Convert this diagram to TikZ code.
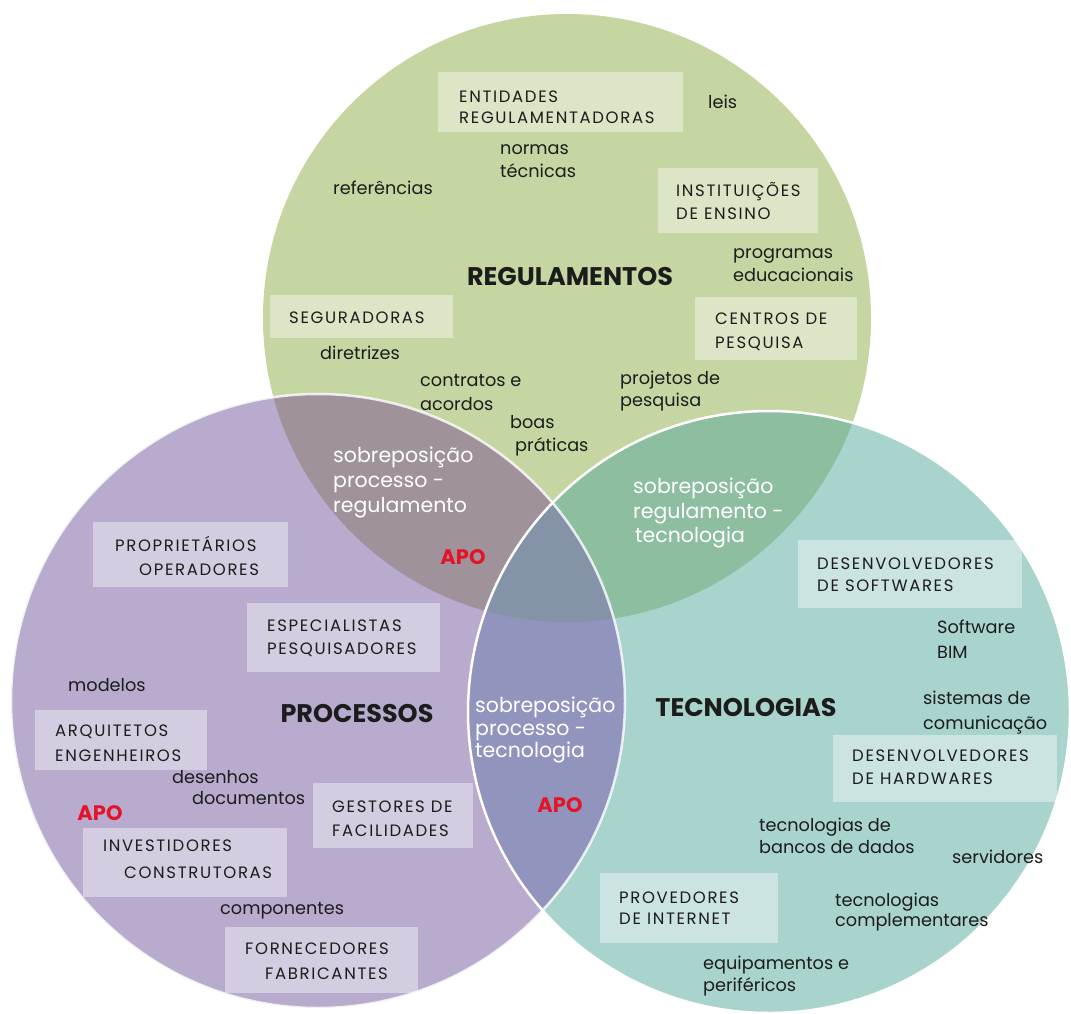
\documentclass[tikz,border=0pt]{standalone}
\usepackage{fontspec}
\setmainfont{Poppins}
\newfontfamily\capsfont[LetterSpace=10.0]{Poppins}
\definecolor{ink}{RGB}{28,28,28}
\definecolor{gcol}{RGB}{197,214,162}
\definecolor{pcol}{RGB}{184,171,206}
\definecolor{tcol}{RGB}{169,211,205}
\definecolor{gpcol}{RGB}{159,146,155}
\definecolor{gtcol}{RGB}{142,190,160}
\definecolor{ptcol}{RGB}{145,149,190}
\definecolor{gptcol}{RGB}{133,147,169}
\definecolor{apored}{RGB}{228,20,40}
\begin{document}
\begin{tikzpicture}[x=1pt,y=-1pt,
  lw/.style={anchor=base west, inner sep=0pt, text=ink, font=\fontsize{17.7}{20}\selectfont},
  cw/.style={anchor=base west, inner sep=0pt, text=ink, font=\capsfont\fontsize{16.5}{19}\selectfont},
  ow/.style={anchor=base west, inner sep=0pt, text=white, font=\fontsize{20.5}{24}\selectfont},
  head/.style={inner sep=0pt, text=ink, font=\bfseries\fontsize{25.5}{29}\selectfont},
  apo/.style={inner sep=0pt, text=apored, font=\bfseries\fontsize{21}{24}\selectfont},
  card/.style={rectangle, fill=white, fill opacity=0.4, inner sep=0pt, draw=none},
  edge/.style={draw=white, line width=2.5pt}]
\useasboundingbox (0,0) rectangle (1071,1014);
\fill[white] (0,0) rectangle (1071,1014);

% circle centres
\coordinate (G) at (567,318);
\coordinate (P) at (318,701);
\coordinate (T) at (769,712);
\def\rg{304}\def\rp{307}\def\rt{301}

% single areas
\fill[gcol] (G) circle[radius=\rg];
\fill[pcol] (P) circle[radius=\rp];
\fill[tcol] (T) circle[radius=\rt];
% pairwise overlaps
\begin{scope}\clip (G) circle[radius=\rg]; \fill[gpcol] (P) circle[radius=\rp];\end{scope}
\begin{scope}\clip (G) circle[radius=\rg]; \fill[gtcol] (T) circle[radius=\rt];\end{scope}
\begin{scope}\clip (P) circle[radius=\rp]; \fill[ptcol] (T) circle[radius=\rt];\end{scope}
% centre overlap
\begin{scope}\clip (G) circle[radius=\rg]; \clip (P) circle[radius=\rp]; \fill[gptcol] (T) circle[radius=\rt];\end{scope}
% white rims
\draw[edge, draw opacity=0.8] (P) circle[radius=\rp];
\draw[edge] (T) circle[radius=\rt];

% cards
\node[card, minimum width=245, minimum height=60] (cEnt) at (560.5,102) {};
\node[card, minimum width=160, minimum height=65] (cIns) at (738,200.5) {};
\node[card, minimum width=183, minimum height=43] (cSeg) at (361.5,316.5) {};
\node[card, minimum width=162, minimum height=63] (cCen) at (776,328.5) {};
\node[card, minimum width=195, minimum height=65] (cPro) at (190.5,554.5) {};
\node[card, minimum width=193, minimum height=69] (cEsp) at (343.5,637.5) {};
\node[card, minimum width=172, minimum height=60] (cArq) at (121,740) {};
\node[card, minimum width=160, minimum height=65] (cGes) at (393,815.5) {};
\node[card, minimum width=204, minimum height=69] (cInv) at (185,862.5) {};
\node[card, minimum width=193, minimum height=66] (cFor) at (321.5,960) {};
\node[card, minimum width=224, minimum height=68] (cSof) at (910,574) {};
\node[card, minimum width=224, minimum height=67] (cHar) at (945,768.5) {};
\node[card, minimum width=178, minimum height=70] (cPrv) at (689,908) {};

% card texts
\node[cw] (t1a) at (459,103) {ENTIDADES};
\node[cw] (t1b) at (459,124) {REGULAMENTADORAS};
\node[cw] (t2a) at (676,196) {INSTITUIÇÕES};
\node[cw] (t2b) at (676,219) {DE ENSINO};
\node[cw] (t3a) at (289,323) {SEGURADORAS};
\node[cw] (t4a) at (715,324) {CENTROS DE};
\node[cw] (t4b) at (715,348) {PESQUISA};
\node[cw] (t5a) at (115,551) {PROPRIETÁRIOS};
\node[cw] (t5b) at (139,575) {OPERADORES};
\node[cw] (t6a) at (267,631) {ESPECIALISTAS};
\node[cw] (t6b) at (267,654) {PESQUISADORES};
\node[cw] (t7a) at (55,736) {ARQUITETOS};
\node[cw] (t7b) at (55,761) {ENGENHEIROS};
\node[cw] (t8a) at (332,812) {GESTORES DE};
\node[cw] (t8b) at (332,836) {FACILIDADES};
\node[cw] (t9a) at (103,851) {INVESTIDORES};
\node[cw] (t9b) at (124,878) {CONSTRUTORAS};
\node[cw] (t10a) at (245,954) {FORNECEDORES};
\node[cw] (t10b) at (265,979) {FABRICANTES};
\node[cw] (t11a) at (817,569) {DESENVOLVEDORES};
\node[cw] (t11b) at (817,591) {DE SOFTWARES};
\node[cw] (t12a) at (852,761) {DESENVOLVEDORES};
\node[cw] (t12b) at (852,784) {DE HARDWARES};
\node[cw] (t13a) at (619,903) {PROVEDORES};
\node[cw] (t13b) at (619,924) {DE INTERNET};

% loose terms
\node[lw] (w1) at (708,109) {leis};
\node[lw] (w2a) at (500,155) {normas};
\node[lw] (w2b) at (500,178) {técnicas};
\node[lw] (w3) at (333,194) {referências};
\node[lw] (w4a) at (733,258) {programas};
\node[lw] (w4b) at (733,281) {educacionais};
\node[lw] (w5) at (320,359) {diretrizes};
\node[lw] (w6a) at (420,386) {contratos e};
\node[lw] (w6b) at (420,410) {acordos};
\node[lw] (w7a) at (620,384) {projetos de};
\node[lw] (w7b) at (620,406) {pesquisa};
\node[lw] (w8a) at (510,428) {boas};
\node[lw] (w8b) at (515,451) {práticas};
\node[lw] (w9) at (68,691) {modelos};
\node[lw] (w10a) at (172,783) {desenhos};
\node[lw] (w10b) at (192,804) {documentos};
\node[lw] (w11) at (220,914) {componentes};
\node[lw] (w12a) at (937,633) {Software};
\node[lw] (w12b) at (937,658) {BIM};
\node[lw] (w13a) at (923,704) {sistemas de};
\node[lw] (w13b) at (923,729) {comunicação};
\node[lw] (w14a) at (759,831) {tecnologias de};
\node[lw] (w14b) at (759,853) {bancos de dados};
\node[lw] (w15) at (952,863) {servidores};
\node[lw] (w16a) at (835,906) {tecnologias};
\node[lw] (w16b) at (835,926) {complementares};
\node[lw] (w17a) at (703,969) {equipamentos e};
\node[lw] (w17b) at (703,991) {periféricos};

% overlap captions
\node[ow] (o1a) at (333,462) {sobreposição};
\node[ow] (o1b) at (333,487) {processo -};
\node[ow] (o1c) at (333,512) {regulamento};
\node[ow] (o2a) at (633,493) {sobreposição};
\node[ow] (o2b) at (633,518) {regulamento -};
\node[ow] (o2c) at (635,542) {tecnologia};
\node[ow] (o3a) at (475,712) {sobreposição};
\node[ow] (o3b) at (475,735) {processo -};
\node[ow] (o3c) at (475,757) {tecnologia};

% set titles
\node[head] (hReg) at (570,277) {REGULAMENTOS};
\node[head] (hPro) at (357,714) {PROCESSOS};
\node[head] (hTec) at (746,708) {TECNOLOGIAS};

% APO marks
\node[apo] (a1) at (463,557) {APO};
\node[apo] (a2) at (100,813) {APO};
\node[apo] (a3) at (560,805) {APO};
\end{tikzpicture}
\end{document}
